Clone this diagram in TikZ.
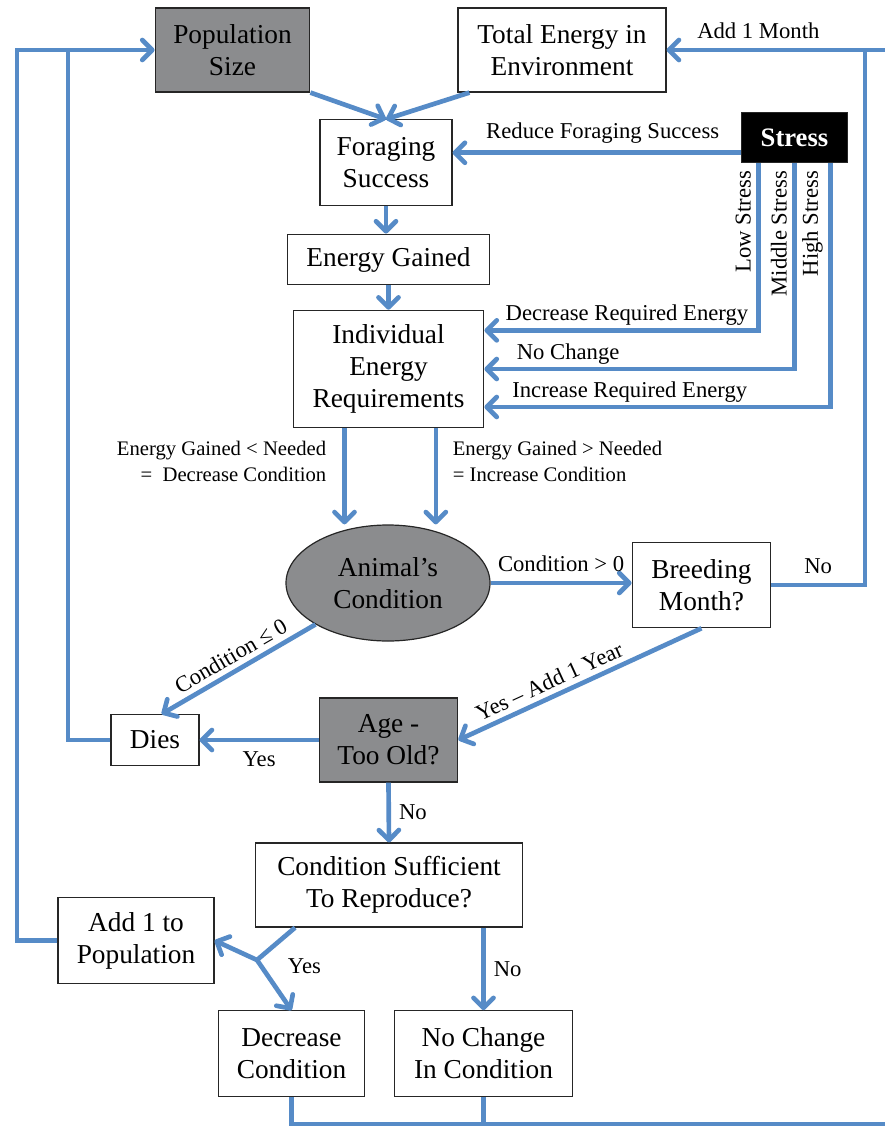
\documentclass[tikz,border=0pt]{standalone}
\usepackage{fontspec}
\setmainfont{Liberation Serif}
\usepackage{tikz}
\usetikzlibrary{arrows.meta,shapes.geometric,positioning}
\tikzset{>={Straight Barb[length=7.5pt,width=15pt,round]}}
\definecolor{flowblue}{RGB}{86,139,199}
\definecolor{boxgray}{RGB}{139,140,142}

\begin{document}
\begin{tikzpicture}[x=0.75pt, y=-0.75pt,
              box/.style={draw=black!85, line width=0.9pt, fill=white, inner sep=0pt, align=center, font=\fontsize{20.5}{24}\selectfont},
              graybox/.style={box, fill=boxgray},
              flow/.style={draw=flowblue, line width=3.5pt},
              lbl/.style={font=\fontsize{17}{20}\selectfont, inner sep=2pt},
              small/.style={font=\fontsize{15.5}{19.5}\selectfont, inner sep=3pt},
             ]
\useasboundingbox (0,0) rectangle (885,1129);

\node[graybox, minimum width=116pt, minimum height=63pt] (pop) at (232.5,50) {Population\\Size};
\node[box, minimum width=156pt, minimum height=63pt] (tot) at (562,50) {Total Energy in\\Environment};
\node[box, minimum width=99pt, minimum height=64pt] (for) at (386,162.5) {Foraging\\Success};
\node[box, fill=black, text=white, minimum width=79pt, minimum height=38pt, font=\fontsize{20}{24}\selectfont\bfseries] (stress) at (794.5,137.5) {Stress};
\node[box, minimum width=152pt, minimum height=38pt] (gain) at (388.5,259.5) {Energy Gained};
\node[box, minimum width=143pt, minimum height=88pt] (req) at (388.5,369) {Individual\\Energy\\Requirements};
\node[graybox, ellipse, minimum width=153pt, minimum height=87pt] (cond) at (388,583) {Animal’s\\Condition};
\node[box, minimum width=104pt, minimum height=64pt] (breed) at (701.5,585) {Breeding\\Month?};
\node[graybox, minimum width=104pt, minimum height=63pt] (age) at (388.5,740) {Age -\\Too Old?};
\node[box, minimum width=66pt, minimum height=38pt] (dies) at (155,740) {Dies};
\node[box, minimum width=200pt, minimum height=63pt] (suff) at (389,885) {Condition Sufficient\\To Reproduce?};
\node[box, minimum width=117pt, minimum height=64pt] (add) at (136,940.5) {Add 1 to\\Population};
\node[box, minimum width=110pt, minimum height=64pt] (dec) at (291.5,1053.5) {Decrease\\Condition};
\node[box, minimum width=133pt, minimum height=64pt] (nochg) at (483.5,1053.5) {No Change\\In Condition};

% loop points
\coordinate (ne) at (885,50);
\coordinate (jr) at (865,50);
\coordinate (lo) at (17,50);
\coordinate (li) at (68,50);
\coordinate (fork) at (257,960);
\coordinate (se) at (885,1124);
\coordinate (sw) at ([yshift=8pt]stress.south west);
\coordinate (s1) at ([xshift=-27pt]stress.south);
\coordinate (s2) at (stress.south);
\coordinate (s3) at ([xshift=27pt]stress.south);
\coordinate (rl) at ([xshift=-33pt]req.south);
\coordinate (rr) at ([xshift=35.5pt]req.south);
\coordinate (sy) at ([xshift=30pt]suff.south west);

\draw[flow,->] (ne) -- node[lbl, pos=0.58, above=5pt]{Add 1 Month} (tot.east);
\draw[flow,->] (pop.south east) -- (for.north);
\draw[flow,->] ([xshift=9pt]tot.south west) -- (for.north);
\draw[flow,->] (for.south) -- (for.south |- gain.north);
\draw[flow,->] (gain.south) -- (req.north);
\draw[flow,->] (sw) -- node[lbl, pos=0.48, above=3pt]{Reduce Foraging Success} (sw -| for.east);

% stress levels
\draw[flow,->] (s1) |- node[lbl, pos=0, rotate=90, anchor=south east, inner sep=4pt]{Low Stress}
  node[lbl, pos=0.74, above]{Decrease Required Energy} ([yshift=29pt]req.east);
\draw[flow,->] (s2) |- node[lbl, pos=0, rotate=90, anchor=south east, inner sep=4pt]{Middle Stress}
  node[lbl, pos=0.865, above]{No Change} (req.east);
\draw[flow,->] (s3) |- node[lbl, pos=0, rotate=90, anchor=south east, inner sep=4pt]{High Stress}
  node[lbl, pos=0.79, above]{Increase Required Energy} ([yshift=-28.5pt]req.east);

\draw[flow,->] (rl) -- node[small, pos=0.35, left=9pt, align=right]{Energy Gained < Needed\\=\ \ Decrease Condition} (rl |- cond.north);
\draw[flow,->] (rr) -- node[small, pos=0.35, right=8pt, align=left]{Energy Gained > Needed\\= Increase Condition} (rr |- cond.north);

\draw[flow,->] (cond.east) -- node[lbl, above=5pt]{Condition > 0} (cond.east -| breed.west);
\draw[flow] (breed.east) -| node[lbl, pos=0.25, above=5pt]{No} (jr);
\draw[flow,->] (cond.south west) -- node[lbl, sloped, above=2pt]{Condition ≤ 0} ([xshift=5pt]dies.north);
\draw[flow,->] (breed.south) -- node[lbl, pos=0.6, sloped, above=2pt]{Yes – Add 1 Year} (age.east);
\draw[flow,->] (age.west) -- node[lbl, below=5pt]{Yes} (dies.east);
\draw[flow,->] (age.south) -- node[lbl, right=4pt]{No} (suff.north);

\draw[flow] (dies.west) -| (li);
\draw[flow,->] (add.west) -| (lo) -- (pop.west);

\draw[flow] (sy) -- (fork);
\draw[flow,->] (fork) -- (add.east);
\draw[flow,->] (fork) -- (dec.north);
\node[lbl, right=21pt of fork, yshift=-4.5pt] (yesrep) {Yes};
\draw[flow,->] (suff.south -| nochg.north) -- node[lbl, right=4pt]{No} (nochg.north);
\draw[flow] (dec.south) |- (se);
\draw[flow] (nochg.south) -- (nochg.south |- se);
\end{tikzpicture}
\end{document}
